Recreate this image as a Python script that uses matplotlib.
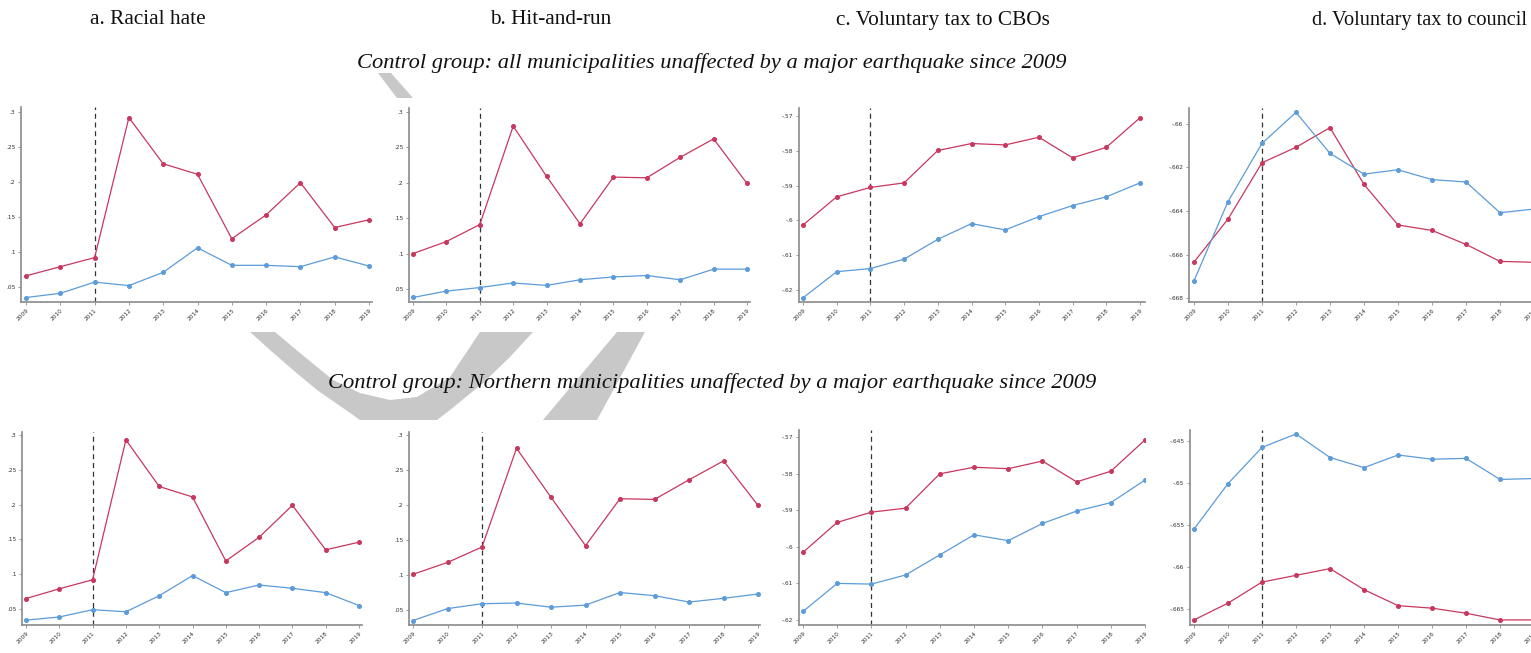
import matplotlib
matplotlib.use("Agg")
import matplotlib.pyplot as plt
from matplotlib.patches import Polygon

W, H = 1531, 653

years = list(range(2009, 2020))
year_labels = [str(y) for y in years]

# top row: all unaffected municipalities as controls
hate_red_all = [.066, .079, .092, .292, .226, .211, .119, .153, .199, .135, .146]
hate_blue_all = [.035, .041, .057, .052, .071, .106, .081, .081, .079, .093, .080]
hit_red_all = [.100, .117, .141, .280, .209, .142, .208, .207, .236, .262, .199]
hit_blue_all = [.038, .047, .052, .0585, .055, .063, .067, .069, .063, .078, .078]
cbo_red_all = [-.6013, -.5932, -.5905, -.5892, -.5799, -.5779, -.5783, -.5761, -.5820, -.5790, -.5705]
cbo_blue_all = [-.6222, -.6147, -.6138, -.6111, -.6054, -.6009, -.6027, -.5989, -.5957, -.5932, -.5892]
council_red_all = [-.66634, -.66437, -.66179, -.66108, -.66018, -.66278, -.66464, -.66489, -.66553, -.66631, -.66635]
council_blue_all = [-.6672, -.66357, -.6609, -.65948, -.66136, -.66231, -.66211, -.66256, -.66267, -.66408, -.66391]

# bottom row: northern unaffected municipalities as controls
hate_red_north = [.065, .079, .092, .293, .226, .211, .119, .153, .199, .135, .146]
hate_blue_north = [.034, .0385, .049, .046, .069, .098, .0735, .0845, .0797, .0735, .055]
hit_red_north = [.101, .118, .140, .281, .211, .142, .209, .208, .236, .263, .1995]
hit_blue_north = [.035, .052, .059, .060, .054, .057, .075, .0705, .0614, .0667, .0729]
cbo_red_north = [-.6015, -.5933, -.5905, -.5894, -.5800, -.5782, -.5786, -.5765, -.5822, -.5793, -.5707]
cbo_blue_north = [-.6177, -.6100, -.6102, -.6077, -.6022, -.5967, -.5983, -.5936, -.5902, -.5879, -.5817]
council_red_north = [-.6663, -.6643, -.6618, -.6610, -.6602, -.6627, -.6646, -.6649, -.6655, -.6663, -.6663]
council_blue_north = [-.6555, -.6501, -.6458, -.6442, -.6470, -.6482, -.6467, -.6472, -.6471, -.6496, -.6495]

rate_ticks = [.05, .1, .15, .2, .25, .3]
rate_labels = [".05", ".1", ".15", ".2", ".25", ".3"]
cbo_ticks = [-.62, -.61, -.6, -.59, -.58, -.57]
cbo_labels = ["-.62", "-.61", "-.6", "-.59", "-.58", "-.57"]
council_ticks_all = [-.668, -.666, -.664, -.662, -.66]
council_labels_all = ["-.668", "-.666", "-.664", "-.662", "-.66"]
council_ticks_north = [-.665, -.66, -.655, -.65, -.645]
council_labels_north = ["-.665", "-.66", "-.655", "-.65", "-.645"]

titles = ["a. Racial hate", "b. Hit-and-run", "c. Voluntary tax to CBOs", "d. Voluntary tax to council"]
title_x = [148, 551, 943, 1422]
subtitles = ["Control group: all municipalities unaffected by a major earthquake since 2009",
             "Control group: Northern municipalities unaffected by a major earthquake since 2009"]

RED = "#c8375e"
BLUE = "#5c9cd9"

fig = plt.figure(figsize=(W / 100, H / 100), dpi=100)
fig.patch.set_facecolor("white")


def px(x, y):
    return (x / W, 1 - y / H)


# grey brush stroke sitting behind the panels
grey_shapes = [
    [(378, 73), (391, 73), (413, 98), (397, 98)],
    [(250, 332), (275, 332), (300, 353), (333, 380), (360, 393), (390, 400), (417, 397),
     (450, 377), (480, 332), (533, 332), (510, 357), (483, 383), (450, 410), (437, 420),
     (360, 420), (343, 408), (317, 390), (293, 370), (270, 350)],
    [(617, 332), (645, 332), (597, 420), (543, 420)],
]
for shape in grey_shapes:
    fig.add_artist(Polygon([px(x, y) for x, y in shape], closed=True,
                           transform=fig.transFigure, facecolor="#c8c8c8",
                           edgecolor="none", zorder=0))


def panel(box, red, blue, ticks, labels, ylim, pitch, first_x):
    left, top, right, bottom = box
    ax = fig.add_axes([left / W, 1 - bottom / H, (right - left) / W, (bottom - top) / H])
    x0 = 2009 - (first_x - left) / pitch
    x1 = x0 + (right - left) / pitch
    ax.plot(years, red, color=RED, lw=0.9, marker="o", ms=2.6, mfc=RED, mec=RED, zorder=3)
    ax.plot(years, blue, color=BLUE, lw=0.9, marker="o", ms=2.6, mfc=BLUE, mec=BLUE, zorder=3)
    ax.axvline(2011, color="#333333", lw=0.9, ls=(0, (4, 3)), zorder=2)
    ax.set_xlim(x0, x1)
    ax.set_ylim(*ylim)
    ax.set_yticks(ticks)
    ax.set_yticklabels(labels)
    ax.set_xticks(years)
    ax.set_xticklabels(year_labels, rotation=45, ha="right", rotation_mode="anchor")
    for s in ["top", "right"]:
        ax.spines[s].set_visible(False)
    for s in ["left", "bottom"]:
        ax.spines[s].set_color("#8a8a8a")
        ax.spines[s].set_linewidth(1.2)
    ax.tick_params(axis="both", length=2.5, width=0.6, color="#8a8a8a",
                   labelsize=4.2, labelcolor="#333333", pad=1.5)
    ax.set_facecolor("white")
    return ax


# top row
panel((21, 107, 372, 302), hate_red_all, hate_blue_all, rate_ticks, rate_labels,
      (.0286, .3071), 34.3, 26)
panel((409, 108, 750, 302), hit_red_all, hit_blue_all, rate_ticks, rate_labels,
      (.0316, .3056), 33.4, 413)
panel((799, 108, 1145, 302), cbo_red_all, cbo_blue_all, cbo_ticks, cbo_labels,
      (-.6234, -.5677), 33.7, 803)
panel((1189, 108, 1537, 302), council_red_all, council_blue_all, council_ticks_all,
      council_labels_all, (-.66817, -.65928), 34.0, 1194)

# bottom row
panel((22, 432, 362, 625), hate_red_north, hate_blue_north, rate_ticks, rate_labels,
      (.027, .3043), 33.3, 26)
panel((409, 432, 760, 625), hit_red_north, hit_blue_north, rate_ticks, rate_labels,
      (.0286, .3043), 34.5, 413)
panel((799, 430, 1145, 625), cbo_red_north, cbo_blue_north, cbo_ticks, cbo_labels,
      (-.6214, -.568), 34.5, 803)
panel((1190, 430, 1537, 625), council_red_north, council_blue_north, council_ticks_north,
      council_labels_north, (-.6669, -.64373), 34.0, 1194)

for t, x in zip(titles[:3], title_x[:3]):
    fig.text(x / W, 1 - 20 / H, t, ha="center", va="center", fontsize=15.3,
             family="Liberation Serif", color="#111111")
# last title runs up to the right edge
fig.text(1527 / W, 1 - 20 / H, titles[3], ha="right", va="center", fontsize=14.6,
         family="Liberation Serif", color="#111111")

fig.text(712 / W, 1 - 63 / H, subtitles[0], ha="center", va="center", fontsize=16.2,
         family="Liberation Serif", style="italic", color="#111111", zorder=5)
fig.text(712 / W, 1 - 383 / H, subtitles[1], ha="center", va="center", fontsize=16.2,
         family="Liberation Serif", style="italic", color="#111111", zorder=5)

fig.savefig("out.png", dpi=100, facecolor="white")
